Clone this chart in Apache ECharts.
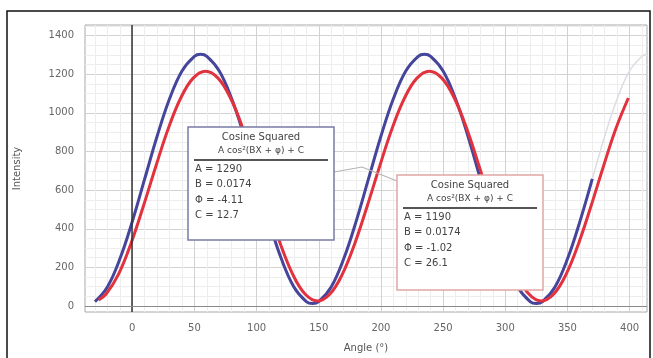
<!DOCTYPE html>
<html>
<head>
<meta charset="utf-8">
<script src="https://cdn.jsdelivr.net/npm/echarts@6/dist/echarts.min.js"></script>
<style>
  html, body { margin: 0; padding: 0; background: #fff; }
  #container { width: 653px; height: 358px; }
</style>
</head>
<body>
<div id="container"></div>
<script>
// values: [angle, intensity]
var blueFit = [
  [-30, 23], [-20, 99], [-10, 243], [0, 437], [10, 658], [20, 879], [30, 1073], [40, 1217],
  [50, 1293], [55, 1303], [60, 1293], [70, 1217], [80, 1073], [90, 879], [100, 658], [110, 437],
  [120, 243], [130, 99], [140, 23], [145, 13], [150, 23], [160, 99], [170, 243], [180, 437],
  [190, 658], [200, 879], [210, 1073], [220, 1217], [230, 1293], [235, 1303], [240, 1293],
  [250, 1217], [260, 1073], [270, 879], [280, 658], [290, 437], [300, 243], [310, 99],
  [320, 23], [325, 13], [330, 23], [340, 99], [350, 243], [360, 437], [370, 658]
];
var redFit = [
  [-27, 32], [-21, 62], [-11, 165], [-1, 324], [9, 518], [19, 724], [29, 919], [39, 1077],
  [49, 1180], [59, 1216], [69, 1180], [79, 1077], [89, 919], [99, 724], [109, 518], [119, 324],
  [129, 165], [139, 62], [149, 26], [159, 62], [169, 165], [179, 324], [189, 518], [199, 724],
  [209, 919], [219, 1077], [229, 1180], [239, 1216], [249, 1180], [259, 1077], [269, 919],
  [279, 724], [289, 518], [299, 324], [309, 165], [319, 62], [329, 26], [339, 62], [349, 165],
  [359, 324], [369, 518], [379, 724], [389, 919], [399, 1077]
];
// faint grey continuation at the right edge
var ghostFit = [[360, 437], [370, 658], [380, 879], [390, 1073], [400, 1217], [410, 1293], [414, 1303]];

var xTicks = [0, 50, 100, 150, 200, 250, 300, 350, 400];
var yTicks = [0, 200, 400, 600, 800, 1000, 1200, 1400];
var xMinor = [-30, -20, -10, 10, 20, 30, 40, 60, 70, 80, 90, 110, 120, 130, 140, 160, 170, 180, 190,
  210, 220, 230, 240, 260, 270, 280, 290, 310, 320, 330, 340, 360, 370, 380, 390, 410];
var yMinor = [50, 100, 150, 250, 300, 350, 450, 500, 550, 650, 700, 750, 850, 900, 950,
  1050, 1100, 1150, 1250, 1300, 1350, 1450];

var blueBox = ['Cosine Squared', 'A cos\u00b2(BX + \u03c6) + C', 'A = 1290', 'B = 0.0174', '\u03a6 = -4.11', 'C = 12.7'];
var redBox = ['Cosine Squared', 'A cos\u00b2(BX + \u03c6) + C', 'A = 1190', 'B = 0.0174', '\u03a6 = -1.02', 'C = 26.1'];

var FONT = '"DejaVu Sans", sans-serif';

var dom = document.getElementById('container');
var myChart = echarts.init(dom, null, { renderer: 'canvas' });

function fitBox(lines, x, y, w, h, border) {
  var cx = x + w / 2;
  var items = [
    { type: 'rect', z: 100, shape: { x: x, y: y, width: w, height: h },
      style: { fill: '#fff', stroke: border, lineWidth: 1.5 } },
    { type: 'text', z: 101, style: { text: lines[0], x: cx, y: y + 10, textAlign: 'center', textVerticalAlign: 'middle',
      fill: '#444', font: '10px ' + FONT } },
    { type: 'text', z: 101, style: { text: lines[1], x: cx, y: y + 24, textAlign: 'center', textVerticalAlign: 'middle',
      fill: '#444', font: '9px ' + FONT } },
    { type: 'line', z: 101, shape: { x1: x + 6, y1: y + 33, x2: x + w - 6, y2: y + 33 },
      style: { stroke: '#555', lineWidth: 1.8 } }
  ];
  for (var i = 2; i < lines.length; i++) {
    items.push({ type: 'text', z: 101, style: { text: lines[i], x: x + 7, y: y + 42 + (i - 2) * 15.5,
      textVerticalAlign: 'middle', fill: '#444', font: '10px ' + FONT } });
  }
  return { type: 'group', z: 100, children: items };
}

var plain = function (v) { return String(v); };

var option = {
  backgroundColor: '#fff',
  animation: false,
  grid: { left: 85, right: 6, top: 25, bottom: 45, show: true, borderColor: '#a8a8a8', borderWidth: 1 },
  xAxis: [
    {
      type: 'value', min: -38, max: 414,
      name: 'Angle (\u00b0)', nameLocation: 'middle', nameGap: 31,
      nameTextStyle: { color: '#555', fontSize: 10, fontFamily: FONT },
      axisLine: { show: false },
      axisTick: { show: false, customValues: xTicks },
      axisLabel: { customValues: xTicks, formatter: plain, margin: 11, color: '#666', fontSize: 10, fontFamily: FONT },
      splitLine: { show: true, lineStyle: { color: '#d2d2d2', width: 1 } }
    },
    {
      type: 'value', min: -38, max: 414, position: 'bottom',
      axisLine: { show: false },
      axisTick: { show: false, customValues: xMinor },
      axisLabel: { show: false },
      splitLine: { show: true, lineStyle: { color: '#ededed', width: 1 } }
    }
  ],
  yAxis: [
    {
      type: 'value', min: -31, max: 1455,
      name: 'Intensity', nameLocation: 'middle', nameGap: 63, nameRotate: 90,
      nameTextStyle: { color: '#555', fontSize: 10, fontFamily: FONT },
      axisLine: { show: false },
      axisTick: { show: false, customValues: yTicks },
      axisLabel: { customValues: yTicks, formatter: plain, margin: 11, color: '#666', fontSize: 10, fontFamily: FONT },
      splitLine: { show: true, lineStyle: { color: '#d2d2d2', width: 1 } }
    },
    {
      type: 'value', min: -31, max: 1455, position: 'left',
      axisLine: { show: false },
      axisTick: { show: false, customValues: yMinor },
      axisLabel: { show: false },
      splitLine: { show: true, lineStyle: { color: '#ededed', width: 1 } }
    }
  ],
  series: [
    {
      type: 'line', name: 'ghost', data: ghostFit, showSymbol: false, smooth: 0.4,
      lineStyle: { color: '#dcdce4', width: 1.5 }, silent: true, z: 2
    },
    {
      type: 'line', name: 'blue', data: blueFit, showSymbol: false, smooth: 0.4,
      lineStyle: { color: '#45459c', width: 3 }, z: 3,
      markLine: {
        silent: true, symbol: ['none', 'none'], label: { show: false },
        data: [
          { xAxis: 0, lineStyle: { color: '#333', width: 1.5, type: 'solid' } },
          { yAxis: 0, lineStyle: { color: '#8a8a8a', width: 1.2, type: 'solid' } }
        ]
      }
    },
    {
      type: 'line', name: 'red', data: redFit, showSymbol: false, smooth: 0.4,
      lineStyle: { color: '#e2323e', width: 3 }, z: 4
    }
  ],
  graphic: [
    { type: 'rect', z: 200, shape: { x: 7, y: 11, width: 643, height: 352 },
      style: { fill: 'none', stroke: '#111', lineWidth: 1.5 } },
    { type: 'polyline', z: 90, shape: { points: [[334, 172], [362, 167], [397, 181]] },
      style: { stroke: '#b4b4b4', lineWidth: 1.2, fill: 'none' } },
    fitBox(blueBox, 188, 127, 146, 113, '#7a7aa8'),
    fitBox(redBox, 397, 175, 146, 115, '#e2a6a6')
  ]
};

myChart.setOption(option);
window.addEventListener('resize', myChart.resize);
</script>
</body>
</html>
